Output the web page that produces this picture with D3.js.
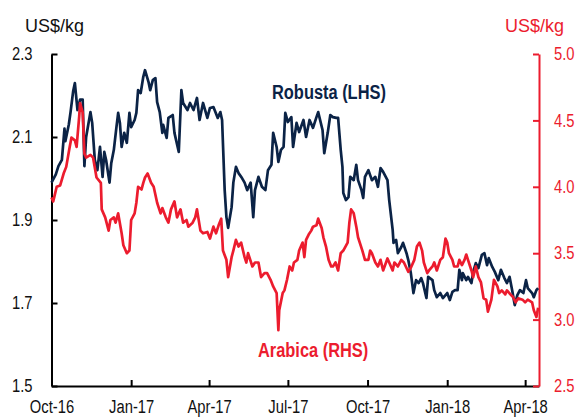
<!DOCTYPE html>
<html>
<head>
<meta charset="utf-8">
<script src="https://cdn.jsdelivr.net/npm/d3@7"></script>
<style>
  html, body { margin: 0; padding: 0; background: #fff; }
  svg { display: block; }
  .tick text { font-family: "Liberation Sans Narrow", "Arial Narrow", "Liberation Sans", Arial, sans-serif; font-size: 18px; }
  .unit { font-family: "Liberation Sans", Arial, sans-serif; font-size: 18px; }
  .series-label { font-family: "Liberation Sans Narrow", "Arial Narrow", "Liberation Sans", Arial, sans-serif; font-size: 20px; font-weight: bold; }
</style>
</head>
<body>
<div id="chart"></div>
<script>
/* Robusta vs Arabica coffee prices, Oct-16 to Apr-18, dual axis (US$/kg). */
var START = new Date(2016, 9, 1);
var END_DAY = 563;

// Robusta (LHS): days since 1 Oct 2016, price US$/kg
var robustaDays = [0,5,8,12,15,16,20,22,25,27,30,33,36,38,40,45,47,50,53,56,
  59,61,63,67,69,72,75,77,79,81,84,87,90,92,96,98,100,103,106,108,
  112,114,117,120,122,125,128,129,133,135,140,142,147,150,152,157,160,164,168,171,
  175,180,183,187,192,195,197,200,202,204,208,210,213,216,220,223,226,230,233,235,
  239,243,247,250,254,256,260,262,265,268,270,273,277,279,283,286,291,294,298,302,
  306,308,313,315,319,322,325,329,331,334,336,337,340,343,345,349,352,354,358,360,
  362,366,368,370,374,377,380,383,388,390,394,395,398,400,404,406,410,412,415,418,
  421,424,427,429,433,435,440,442,445,449,452,457,460,463,466,469,471,474,475,479,
  481,485,487,490,493,497,500,503,505,509,512,516,519,523,526,529,532,535,538,541,
  545,548,550,555,557,560,562];
var robustaValues = [1.99,2.01,2.03,2.045,2.12,2.09,2.13,2.16,2.21,2.23,
  2.165,2.19,2.19,2.03,2.10,2.16,2.134,2.045,2.02,2.076,
  2.004,2.064,2.045,1.99,2.037,2.069,2.124,2.158,2.134,2.076,
  2.11,2.086,2.158,2.124,2.141,2.158,2.213,2.206,2.245,2.261,
  2.233,2.213,2.237,2.242,2.184,2.16,2.11,2.129,2.098,2.146,
  2.153,2.11,2.064,2.213,2.182,2.165,2.182,2.165,2.194,2.141,
  2.182,2.146,2.17,2.172,2.146,2.16,2.141,1.972,1.907,1.881,
  1.931,1.99,2.028,2.013,2.001,1.99,1.972,1.99,1.907,1.972,
  2.004,1.98,1.972,2.02,2.033,2.11,2.076,2.04,2.069,2.076,
  2.158,2.136,2.148,2.076,2.134,2.112,2.141,2.10,2.141,2.122,
  2.148,2.16,2.117,2.061,2.11,2.153,2.148,2.146,2.146,2.069,
  2.028,1.965,1.948,1.955,2.004,1.996,2.033,1.996,1.972,1.953,
  2.004,2.02,2.008,1.996,2.004,1.98,2.025,2.016,1.996,1.948,
  1.876,1.845,1.852,1.82,1.835,1.845,1.82,1.804,1.772,1.724,
  1.755,1.748,1.76,1.748,1.712,1.763,1.755,1.731,1.714,1.724,
  1.712,1.724,1.707,1.727,1.731,1.731,1.78,1.755,1.772,1.755,
  1.763,1.748,1.775,1.796,1.784,1.816,1.82,1.791,1.808,1.787,
  1.775,1.755,1.78,1.76,1.748,1.763,1.731,1.695,1.719,1.731,
  1.724,1.755,1.736,1.724,1.714,1.731,1.736];

// Arabica (RHS)
var arabicaDays = [0,2,6,10,14,17,21,23,27,29,32,33,36,38,40,45,48,52,57,58,
  62,66,68,72,74,77,81,83,87,90,92,96,98,100,104,106,108,111,115,118,
  122,126,128,132,135,138,142,145,149,152,156,158,163,166,168,172,175,180,183,187,
  190,193,196,198,202,204,208,210,213,216,219,223,225,227,232,235,239,242,246,249,
  253,256,260,262,263,267,269,272,275,278,280,284,286,290,292,294,297,300,302,306,
  308,312,314,317,320,323,325,328,331,334,337,342,344,346,349,352,354,359,362,366,
  368,370,374,377,380,383,388,390,394,396,400,404,407,412,415,419,422,425,428,430,
  434,436,440,442,445,449,452,455,457,459,463,465,469,471,474,477,479,481,485,487,
  490,493,496,499,502,504,508,511,515,517,520,524,526,530,533,536,539,544,547,550,
  555,557,560,562];
var arabicaValues = [3.92,3.89,4.00,4.01,4.10,4.15,4.30,4.37,4.35,4.30,
  4.53,4.63,4.56,4.25,4.22,4.24,4.22,4.07,4.03,3.83,
  3.77,3.67,3.75,3.77,3.73,3.80,3.65,3.56,3.50,3.52,
  3.75,3.80,3.88,4.00,3.98,4.03,4.07,4.10,4.03,4.00,
  3.88,3.80,3.84,3.77,3.73,3.83,3.89,3.77,3.83,3.73,
  3.75,3.70,3.73,3.77,3.83,3.67,3.65,3.66,3.61,3.70,
  3.65,3.71,3.76,3.52,3.45,3.32,3.47,3.52,3.60,3.55,
  3.58,3.47,3.43,3.50,3.40,3.43,3.43,3.32,3.35,3.35,
  3.30,3.25,3.20,2.92,3.07,3.20,3.22,3.30,3.40,3.37,
  3.43,3.45,3.52,3.58,3.47,3.60,3.64,3.67,3.70,3.71,
  3.76,3.69,3.62,3.55,3.45,3.40,3.40,3.43,3.37,3.50,
  3.52,3.58,3.73,3.83,3.80,3.70,3.62,3.52,3.45,3.45,
  3.52,3.50,3.43,3.40,3.45,3.37,3.46,3.43,3.37,3.43,
  3.40,3.45,3.43,3.36,3.39,3.45,3.55,3.58,3.52,3.43,
  3.35,3.37,3.40,3.43,3.37,3.45,3.47,3.61,3.58,3.50,
  3.45,3.40,3.40,3.45,3.41,3.45,3.49,3.45,3.37,3.32,
  3.40,3.32,3.28,3.16,3.15,3.06,3.15,3.30,3.25,3.20,
  3.22,3.19,3.22,3.19,3.17,3.13,3.16,3.15,3.13,3.15,
  3.13,3.07,3.02,3.09];

var leftTicks = [1.5, 1.7, 1.9, 2.1, 2.3];
var rightTicks = [2.5, 3.0, 3.5, 4.0, 4.5, 5.0];
var xTickDates = [new Date(2016, 9, 1), new Date(2017, 0, 1), new Date(2017, 3, 1),
  new Date(2017, 6, 1), new Date(2017, 9, 1), new Date(2018, 0, 1), new Date(2018, 3, 1)];

(function () {
  "use strict";

  var W = 579, H = 417;
  var m = { top: 54, right: 40, bottom: 31, left: 51.5 };
  var NAVY = "#0b2346", RED = "#ec1c2e";

  var svg = d3.select("#chart").append("svg")
    .attr("width", W).attr("height", H);

  var x = d3.scaleTime()
    .domain([START, d3.timeDay.offset(START, END_DAY)])
    .range([m.left, W - m.right]);
  var yL = d3.scaleLinear().domain([1.5, 2.3]).range([H - m.bottom, m.top]);
  var yR = d3.scaleLinear().domain([2.5, 5.0]).range([H - m.bottom, m.top]);

  function series(days, vals) {
    return days.map(function (d, i) { return { date: d3.timeDay.offset(START, d), v: vals[i] }; });
  }

  // no narrow face installed: squeeze the regular one to the reference's condensed width
  function condense(sel, k) {
    sel.each(function () {
      var w = this.getComputedTextLength();
      d3.select(this).attr("textLength", w * k).attr("lengthAdjust", "spacingAndGlyphs");
    });
  }

  /* axes — ticks point inward */
  var gx = svg.append("g")
    .attr("transform", "translate(0," + (H - m.bottom) + ")")
    .call(d3.axisBottom(x).tickValues(xTickDates).tickFormat(d3.timeFormat("%b-%y"))
      .tickSizeInner(-6).tickSizeOuter(0).tickPadding(14));

  var gl = svg.append("g")
    .attr("transform", "translate(" + m.left + ",0)")
    .call(d3.axisLeft(yL).tickValues(leftTicks).tickFormat(d3.format(".1f"))
      .tickSizeInner(-6).tickSizeOuter(0).tickPadding(19));

  var gr = svg.append("g")
    .attr("transform", "translate(" + (W - m.right) + ",0)")
    .call(d3.axisRight(yR).tickValues(rightTicks).tickFormat(d3.format(".1f"))
      .tickSizeInner(-6).tickSizeOuter(0).tickPadding(15));

  [gx, gl].forEach(function (g) {
    g.selectAll("path, line").attr("stroke", "#000").attr("stroke-width", 2);
    g.selectAll("text").attr("fill", "#111");
  });
  gr.selectAll("path, line").attr("stroke", RED).attr("stroke-width", 2);
  gr.selectAll("text").attr("fill", RED);
  svg.selectAll(".tick text").call(condense, 0.82);

  /* lines */
  var lineL = d3.line().x(function (d) { return x(d.date); }).y(function (d) { return yL(d.v); });
  var lineR = d3.line().x(function (d) { return x(d.date); }).y(function (d) { return yR(d.v); });

  svg.append("path")
    .datum(series(robustaDays, robustaValues))
    .attr("d", lineL)
    .attr("fill", "none").attr("stroke", NAVY).attr("stroke-width", 2.7)
    .attr("stroke-linejoin", "round");

  svg.append("path")
    .datum(series(arabicaDays, arabicaValues))
    .attr("d", lineR)
    .attr("fill", "none").attr("stroke", RED).attr("stroke-width", 2.7)
    .attr("stroke-linejoin", "round");

  /* unit titles + series labels */
  svg.append("text").attr("class", "unit").attr("x", 25).attr("y", 32)
    .attr("fill", "#111").text("US$/kg");
  svg.append("text").attr("class", "unit").attr("x", 505).attr("y", 32)
    .attr("fill", RED).text("US$/kg");

  svg.append("text").attr("class", "series-label").attr("x", 272).attr("y", 99)
    .attr("fill", NAVY).text("Robusta (LHS)");
  svg.append("text").attr("class", "series-label").attr("x", 258).attr("y", 357)
    .attr("fill", RED).text("Arabica (RHS)");
  svg.selectAll(".series-label").call(condense, 0.82);
})();
</script>
</body>
</html>
